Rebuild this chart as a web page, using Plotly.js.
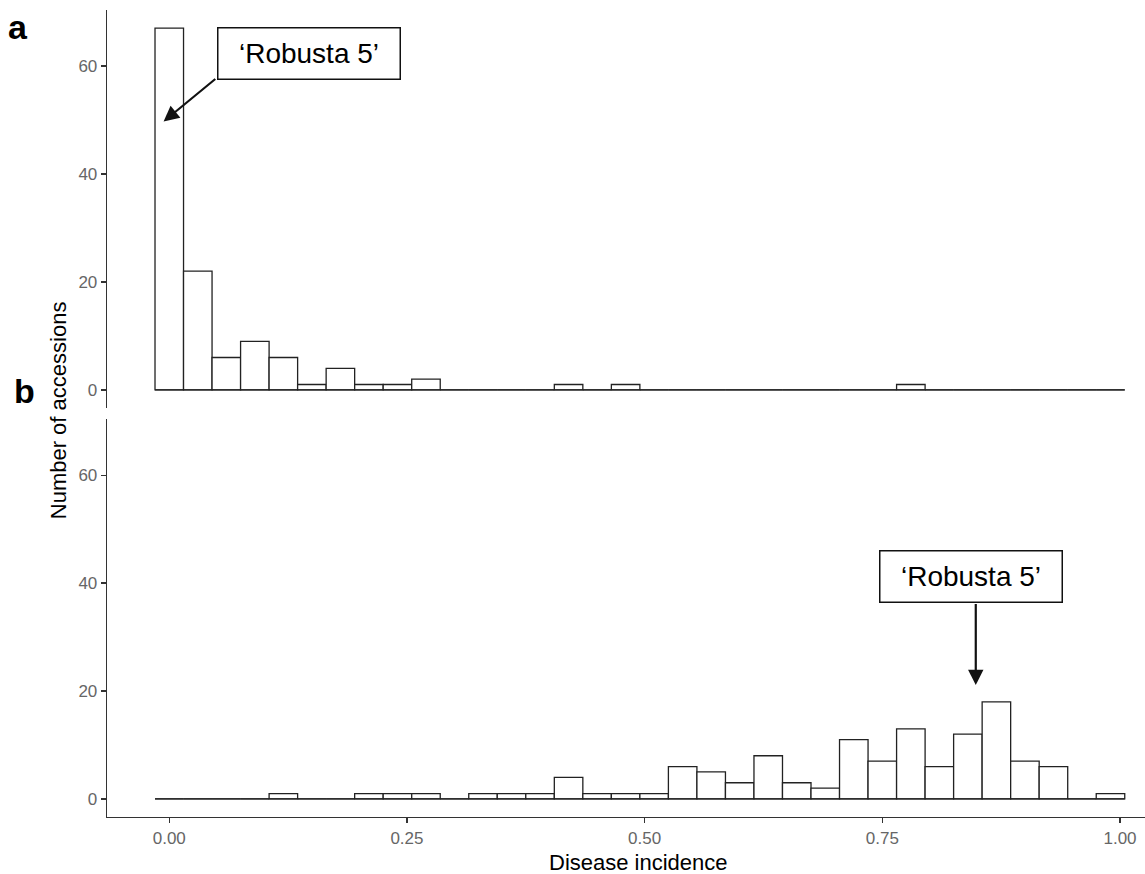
<!DOCTYPE html>
<html>
<head>
<meta charset="utf-8">
<script src="https://cdn.plot.ly/plotly-3.0.1.min.js"></script>
<style>html,body{margin:0;padding:0;background:#fff;}#chart{width:1145px;height:874px;}</style>
</head>
<body>
<div id="chart"></div>
<script>
// Bin centres (disease incidence), bin width 0.03
const binCenters = [0.00,0.03,0.06,0.09,0.12,0.15,0.18,0.21,0.24,0.27,0.30,0.33,0.36,0.39,0.42,0.45,0.48,0.51,0.54,0.57,0.60,0.63,0.66,0.69,0.72,0.75,0.78,0.81,0.84,0.87,0.90,0.93,0.96,0.99];
const binWidth = 0.03;
// Panel a counts
const countsA = [67,22,6,9,6,1,4,1,1,2,0,0,0,0,1,0,1,0,0,0,0,0,0,0,0,0,1,0,0,0,0,0,0,0];
// Panel b counts
const countsB = [0,0,0,0,1,0,0,1,1,1,0,1,1,1,4,1,1,1,6,5,3,8,3,2,11,7,13,6,12,18,7,6,0,1];
const xTickVals = [0,0.25,0.5,0.75,1];
const xTickText = ["0.00","0.25","0.50","0.75","1.00"];
const yTickVals = [0,20,40,60];
const yTickText = ["0","20","40","60"];
const labelText = "\u2018Robusta 5\u2019";
// Robusta 5 positions (disease incidence, count) for arrow tips / label boxes
const robustaA = {tipX:-0.006, tipY:49.7, tailX:0.050, tailY:57.8, boxX:0.1467, boxY:62.3};
const robustaB = {tipX:0.8483, tipY:21.1, tailX:0.8483, tailY:36.4, boxX:0.8435, boxY:41.2};

const FONT = "Liberation Sans, Arial, Helvetica, sans-serif";
const edgeX = [binCenters[0]-binWidth/2, binCenters[binCenters.length-1]+binWidth/2];

function barTrace(counts, xa, ya){
  return {type:'bar', x:binCenters, y:counts, width:binCenters.map(()=>binWidth),
    xaxis:xa, yaxis:ya, marker:{color:'#ffffff', line:{color:'#222222', width:1.3}},
    hoverinfo:'x+y', showlegend:false};
}
function baseTrace(xa, ya){
  return {type:'scatter', mode:'lines', x:edgeX, y:[0,0], xaxis:xa, yaxis:ya,
    line:{color:'#222222', width:1.3}, hoverinfo:'skip', showlegend:false};
}

const data = [
  baseTrace('x2','y2'), barTrace(countsA,'x2','y2'),
  baseTrace('x','y'), barTrace(countsB,'x','y')
];

const xRange = [-0.0655, 1.0263];
const yRange = [-3.35, 70.35];
const yCommon = {range:yRange, showline:true, linecolor:'#333333', linewidth:1.3,
  ticks:'outside', ticklen:5, tickwidth:1.3, tickcolor:'#333333',
  tickvals:yTickVals, ticktext:yTickText, tickfont:{family:FONT, size:17, color:'#666666'},
  showgrid:false, zeroline:false, fixedrange:true};

const layout = {
  width:1145, height:874,
  margin:{l:107, r:0, t:10, b:57},
  paper_bgcolor:'#ffffff', plot_bgcolor:'#ffffff',
  font:{family:FONT, color:'#000000'},
  barmode:'overlay', bargap:0,
  showlegend:false,
  xaxis:{domain:[0,1], range:xRange, anchor:'y', showline:true, linecolor:'#333333', linewidth:1.3,
    ticks:'outside', ticklen:5, tickwidth:1.3, tickcolor:'#333333',
    tickvals:xTickVals, ticktext:xTickText, tickfont:{family:FONT, size:17, color:'#666666'},
    showgrid:false, zeroline:false, fixedrange:true},
  xaxis2:{domain:[0,1], range:xRange, anchor:'y2', matches:'x', showline:false, ticks:'',
    showticklabels:false, showgrid:false, zeroline:false, fixedrange:true},
  yaxis:Object.assign({domain:[0,0.4927], anchor:'x'}, yCommon),
  yaxis2:Object.assign({domain:[0.5068,1], anchor:'x2'}, yCommon),
  annotations:[
    {xref:'paper', yref:'paper', x:-0.0855, y:0.9795, text:'<b>a</b>', showarrow:false,
      xanchor:'center', yanchor:'middle', font:{family:FONT, size:34, color:'#000'}},
    {xref:'paper', yref:'paper', x:-0.0795, y:0.5285, text:'<b>b</b>', showarrow:false,
      xanchor:'center', yanchor:'middle', font:{family:FONT, size:34, color:'#000'}},
    {xref:'paper', yref:'paper', x:-0.0465, y:0.5037, text:'Number of accessions', textangle:-90,
      showarrow:false, xanchor:'center', yanchor:'middle', font:{family:FONT, size:22, color:'#000'}},
    {xref:'paper', yref:'paper', x:0.5125, y:-0.0558, text:'Disease incidence',
      showarrow:false, xanchor:'center', yanchor:'middle', font:{family:FONT, size:22, color:'#000'}},
    // panel a label + arrow
    {xref:'x2', yref:'y2', x:robustaA.boxX, y:robustaA.boxY, text:labelText, showarrow:false,
      xanchor:'center', yanchor:'middle', width:181, height:50, borderpad:0, bordercolor:'#111',
      borderwidth:1.5, bgcolor:'#ffffff', font:{family:FONT, size:28, color:'#000'}},
    {xref:'x2', yref:'y2', axref:'x2', ayref:'y2', x:robustaA.tipX, y:robustaA.tipY,
      ax:robustaA.tailX, ay:robustaA.tailY, text:'', showarrow:true, arrowhead:2,
      arrowsize:1.4, arrowwidth:2.2, arrowcolor:'#111'},
    // panel b label + arrow
    {xref:'x', yref:'y', x:robustaB.boxX, y:robustaB.boxY, text:labelText, showarrow:false,
      xanchor:'center', yanchor:'middle', width:181, height:50, borderpad:0, bordercolor:'#111',
      borderwidth:1.5, bgcolor:'#ffffff', font:{family:FONT, size:28, color:'#000'}},
    {xref:'x', yref:'y', axref:'x', ayref:'y', x:robustaB.tipX, y:robustaB.tipY,
      ax:robustaB.tailX, ay:robustaB.tailY, text:'', showarrow:true, arrowhead:2,
      arrowsize:1.4, arrowwidth:2.2, arrowcolor:'#111'}
  ]
};

Plotly.newPlot('chart', data, layout, {displayModeBar:false, staticPlot:true});
</script>
</body>
</html>
